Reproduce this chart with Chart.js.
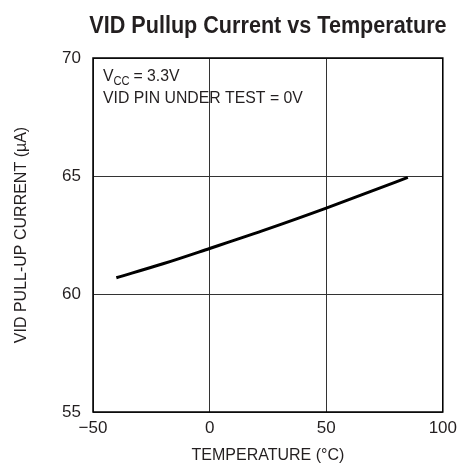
<!DOCTYPE html>
<html>
<head>
<meta charset="utf-8">
<script src="https://cdn.jsdelivr.net/npm/chart.js@4/dist/chart.umd.min.js"></script>
<style>
  html, body { margin: 0; padding: 0; background: #fff; }
  #wrap { width: 463px; height: 471px; }
</style>
</head>
<body>
<div id="wrap"><canvas id="c" width="463" height="471"></canvas></div>
<script>
const temperatures = [-40, -20, 0, 25, 50, 70, 85];
const currents = [60.69, 61.28, 61.93, 62.76, 63.64, 64.38, 64.94];
const xTicks = [-50, 0, 50, 100];
const yTicks = [55, 60, 65, 70];
const chartTitle = 'VID Pullup Current vs Temperature';
const xTitle = 'TEMPERATURE (°C)';
const yTitle = 'VID PULL-UP CURRENT (µA)';
const noteLine2 = 'VID PIN UNDER TEST = 0V';

const FONT = '"Liberation Sans", Arial, sans-serif';

const overlay = {
  id: 'overlay',
  afterDraw(chart) {
    const ctx = chart.ctx, a = chart.chartArea;
    ctx.save();
    ctx.fillStyle = '#231f20';
    // title, condensed horizontally
    ctx.save();
    ctx.font = 'bold 24px ' + FONT;
    ctx.textAlign = 'center';
    ctx.textBaseline = 'middle';
    const cx = (a.left + a.right) / 2;
    ctx.translate(cx, 26);
    ctx.scale(0.9, 1);
    ctx.fillText(chartTitle, 0, 0);
    ctx.restore();
    // annotation
    ctx.save();
    ctx.textAlign = 'left';
    ctx.textBaseline = 'alphabetic';
    ctx.translate(a.left + 10, a.top + 23);
    ctx.scale(0.93, 1);
    ctx.font = '17px ' + FONT;
    let x = 0;
    ctx.fillText('V', x, 0);
    x += ctx.measureText('V').width;
    ctx.font = '12px ' + FONT;
    ctx.fillText('CC', x, 4);
    x += ctx.measureText('CC').width + 4;
    ctx.font = '17px ' + FONT;
    ctx.fillText('= 3.3V', x, 0);
    ctx.fillText(noteLine2, 0, 22);
    ctx.restore();
    // border
    ctx.strokeStyle = '#000';
    ctx.lineWidth = 1.5;
    ctx.strokeRect(a.left, a.top, a.right - a.left, a.bottom - a.top);
    ctx.restore();
  }
};

new Chart(document.getElementById('c'), {
  type: 'line',
  data: {
    datasets: [{
      data: temperatures.map((t, i) => ({ x: t, y: currents[i] })),
      borderColor: '#000',
      borderWidth: 3,
      pointRadius: 0,
      cubicInterpolationMode: 'monotone',
      fill: false
    }]
  },
  options: {
    responsive: false,
    animation: false,
    layout: { padding: { top: 58, right: 18, left: 0, bottom: 0 } },
    plugins: { legend: { display: false }, tooltip: { enabled: false }, title: { display: false } },
    scales: {
      x: {
        type: 'linear',
        min: -50, max: 100,
        afterBuildTicks: s => { s.ticks = xTicks.map(v => ({ value: v })); },
        afterFit: s => { s.height = 59; },
        grid: { color: '#333', lineWidth: 1, drawTicks: false },
        border: { display: false },
        ticks: {
          padding: 6,
          color: '#231f20',
          font: { family: FONT, size: 17 },
          callback: v => (v < 0 ? '\u2212' + Math.abs(v) : String(v))
        },
        title: { display: true, text: xTitle, color: '#231f20', font: { family: FONT, size: 16 }, padding: { top: 0, bottom: 6 } }
      },
      y: {
        type: 'linear',
        min: 55, max: 70,
        afterBuildTicks: s => { s.ticks = yTicks.map(v => ({ value: v })); },
        afterFit: s => { s.width = 93; },
        grid: { color: '#333', lineWidth: 1, drawTicks: false },
        border: { display: false },
        ticks: {
          padding: 12,
          color: '#231f20',
          font: { family: FONT, size: 17 }
        },
        title: { display: true, text: yTitle, color: '#231f20', font: { family: FONT, size: 16 }, padding: { top: 12, bottom: 0 } }
      }
    }
  },
  plugins: [overlay]
});
</script>
</body>
</html>
